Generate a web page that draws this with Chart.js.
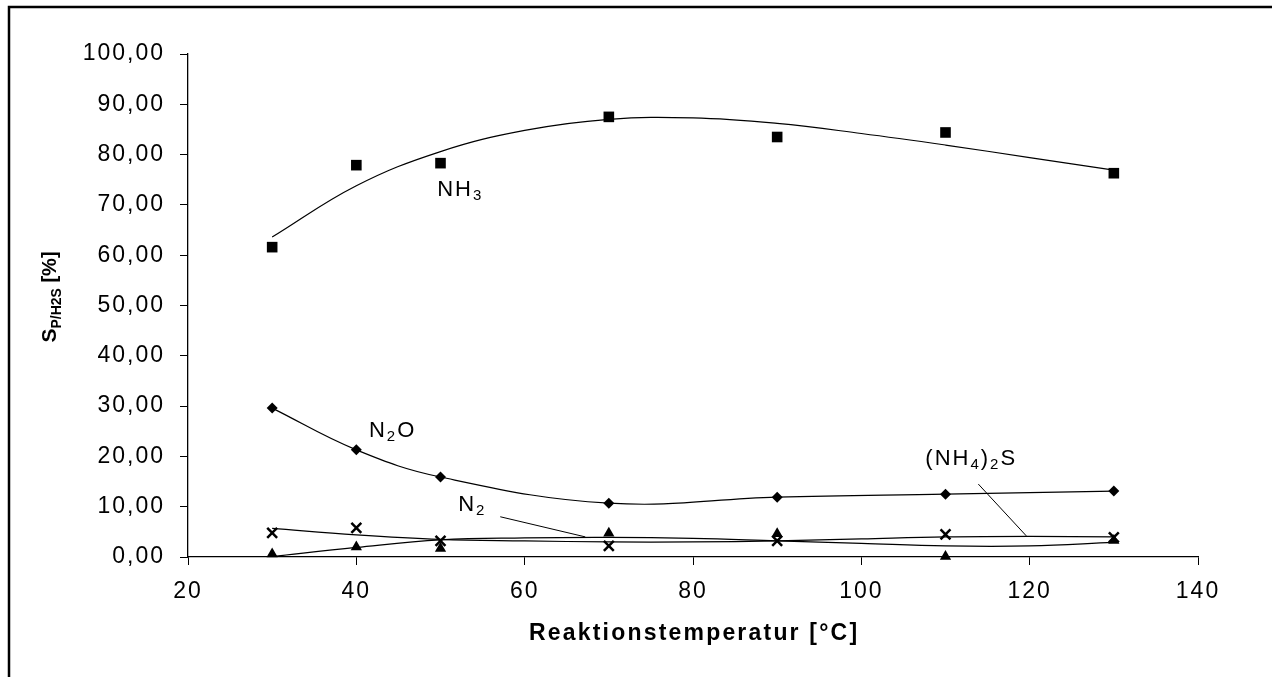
<!DOCTYPE html>
<html lang="de">
<head>
<meta charset="utf-8">
<title>Selektivität über Reaktionstemperatur</title>
<script src="https://cdn.jsdelivr.net/npm/chart.js@4.4.1/dist/chart.umd.min.js"></script>
<style>
  html, body { margin: 0; padding: 0; background: #fff; }
  canvas { display: block; }
</style>
</head>
<body>
<canvas id="selektivitaet" width="1272" height="677"></canvas>
<script>
// Messpunkte
const temperaturen = [30, 40, 50, 70, 90, 110, 130];
const nh3 = [61.6, 77.9, 78.3, 87.5, 83.5, 84.4, 76.3];
const n2o = [29.6, 21.3, 15.9, 10.7, 11.9, 12.5, 13.1];
const n2 = [0.6, 2.0, 1.7, 4.7, 4.6, 0.1, 3.3];
const nh42s = [4.8, 5.8, 3.2, 2.2, 3.2, 4.5, 3.9];

const trendTemp = [30, 40, 50, 60, 70, 80, 90, 100, 110, 120, 130];
const nh3Trend = [63.6, 73.8, 80.6, 84.8, 87.0, 87.3, 86.2, 84.2, 81.9, 79.4, 76.9];
const n2Trend = [0.1, 1.9, 3.4, 3.8, 3.9, 3.7, 3.2, 2.7, 2.2, 2.2, 2.9];
const nh42sTrend = [5.7, 4.4, 3.5, 3.2, 3.0, 3.0, 3.2, 3.6, 4.0, 4.1, 4.0];

// Achsenteilung
const xTicks = [20, 40, 60, 80, 100, 120, 140];
const yTicks = [0, 10, 20, 30, 40, 50, 60, 70, 80, 90, 100];

// Beschriftungen an den Kurven (Temperatur, Wert der Grundlinie)
const beschriftungen = [
  { teile: [['NH', false], ['3', true]], t: 49.6, s: 71.8 },
  { teile: [['N', false], ['2', true], ['O', false]], t: 41.5, s: 23.9 },
  { teile: [['N', false], ['2', true]], t: 52.1, s: 9.1 },
  { teile: [['(NH', false], ['4', true], [')', false], ['2', true], ['S', false]], t: 107.6, s: 18.3 }
];
const hinweislinien = [
  [57.1, 8.0, 67.2, 4.0],
  [113.9, 14.5, 119.6, 4.2]
];

const SCHRIFT = '"Liberation Sans", Arial, sans-serif';

const punkte = (xs, ys) => xs.map((x, i) => ({ x: x, y: ys[i] }));

function schreibe(ctx, teile, x, y) {
  let cx = x;
  teile.forEach(([text, tief]) => {
    ctx.font = (tief ? '15px ' : '22px ') + SCHRIFT;
    ctx.fillText(text, cx, tief ? y + 4 : y);
    cx += ctx.measureText(text).width;
  });
}

const rahmenUndTexte = {
  id: 'rahmenUndTexte',
  beforeUpdate(chart) {
    chart.ctx.letterSpacing = '2px';
  },
  afterDraw(chart) {
    const ctx = chart.ctx;
    const xs = chart.scales.x;
    const ys = chart.scales.y;
    ctx.save();

    // Rahmen
    ctx.strokeStyle = '#000';
    ctx.lineWidth = 2.5;
    ctx.strokeRect(9, 7, 1300, 700);

    ctx.fillStyle = '#000';
    ctx.textBaseline = 'alphabetic';
    ctx.textAlign = 'left';

    // x-Achsentitel
    ctx.letterSpacing = '2.2px';
    ctx.font = 'bold 23px ' + SCHRIFT;
    const titel = 'Reaktionstemperatur [°C]';
    const b = ctx.measureText(titel).width - 2.2;
    ctx.fillText(titel, (chart.chartArea.left + chart.chartArea.right) / 2 - b / 2, 640);

    // y-Achsentitel mit Index
    ctx.letterSpacing = '0px';
    const yTeile = [['S', 'bold 21px ', 0], ['P/H2S', 'bold 14px ', 5], [' [%]', 'bold 20px ', 0]];
    let gesamt = 0;
    yTeile.forEach(([t, f]) => { ctx.font = f + SCHRIFT; gesamt += ctx.measureText(t).width; });
    ctx.translate(56, 297);
    ctx.rotate(-Math.PI / 2);
    let pos = -gesamt / 2;
    yTeile.forEach(([t, f, d]) => {
      ctx.font = f + SCHRIFT;
      ctx.fillText(t, pos, d);
      pos += ctx.measureText(t).width;
    });
    ctx.setTransform(1, 0, 0, 1, 0, 0);

    // Kurvenbeschriftungen
    ctx.letterSpacing = '2px';
    beschriftungen.forEach(l => {
      schreibe(ctx, l.teile, xs.getPixelForValue(l.t), ys.getPixelForValue(l.s));
    });

    ctx.lineWidth = 1;
    hinweislinien.forEach(([t1, s1, t2, s2]) => {
      ctx.beginPath();
      ctx.moveTo(xs.getPixelForValue(t1), ys.getPixelForValue(s1));
      ctx.lineTo(xs.getPixelForValue(t2), ys.getPixelForValue(s2));
      ctx.stroke();
    });
    ctx.restore();
  }
};

const punktSerie = (daten, stil, radius, extra) => Object.assign({
  data: punkte(temperaturen, daten),
  showLine: false,
  pointStyle: stil,
  pointRadius: radius,
  pointHoverRadius: radius,
  pointBackgroundColor: '#000',
  pointBorderColor: '#000',
  pointBorderWidth: 0,
  clip: false,
  order: 0
}, extra || {});

const trendSerie = (daten) => ({
  data: punkte(trendTemp, daten),
  showLine: true,
  tension: 0.4,
  borderColor: '#000',
  borderWidth: 1.2,
  pointRadius: 0,
  fill: false,
  order: 1
});

new Chart(document.getElementById('selektivitaet'), {
  type: 'scatter',
  data: {
    datasets: [
      punktSerie(nh3, 'rect', 7.5),
      trendSerie(nh3Trend),
      punktSerie(n2o, 'rectRot', 5.5, { showLine: true, tension: 0.4, borderColor: '#000', borderWidth: 1.2 }),
      punktSerie(n2, 'triangle', 6.5),
      trendSerie(n2Trend),
      punktSerie(nh42s, 'crossRot', 7, { pointBorderWidth: 2.5 }),
      trendSerie(nh42sTrend)
    ]
  },
  options: {
    responsive: false,
    animation: false,
    devicePixelRatio: 1,
    layout: { padding: { left: 0, top: 54, right: 74, bottom: 0 } },
    plugins: {
      legend: { display: false },
      tooltip: { enabled: false }
    },
    scales: {
      x: {
        type: 'linear',
        min: 20,
        max: 140,
        afterBuildTicks: s => { s.ticks = xTicks.map(v => ({ value: v })); },
        afterFit: s => { s.height = 120; },
        ticks: { color: '#000', padding: 13, maxRotation: 0, font: { family: SCHRIFT, size: 23 } },
        grid: { drawOnChartArea: false, drawTicks: true, tickLength: 8, color: '#000', lineWidth: 1 },
        border: { display: true, color: '#000', width: 1.3 }
      },
      y: {
        min: 0,
        max: 100,
        afterBuildTicks: s => { s.ticks = yTicks.map(v => ({ value: v })); },
        afterFit: s => { s.width = 188; },
        ticks: {
          color: '#000',
          padding: 15,
          font: { family: SCHRIFT, size: 23 },
          callback: v => v.toFixed(2).replace('.', ',')
        },
        grid: { drawOnChartArea: false, drawTicks: true, tickLength: 8, color: '#000', lineWidth: 1 },
        border: { display: true, color: '#000', width: 1.3 }
      }
    }
  },
  plugins: [rahmenUndTexte]
});
</script>
</body>
</html>
